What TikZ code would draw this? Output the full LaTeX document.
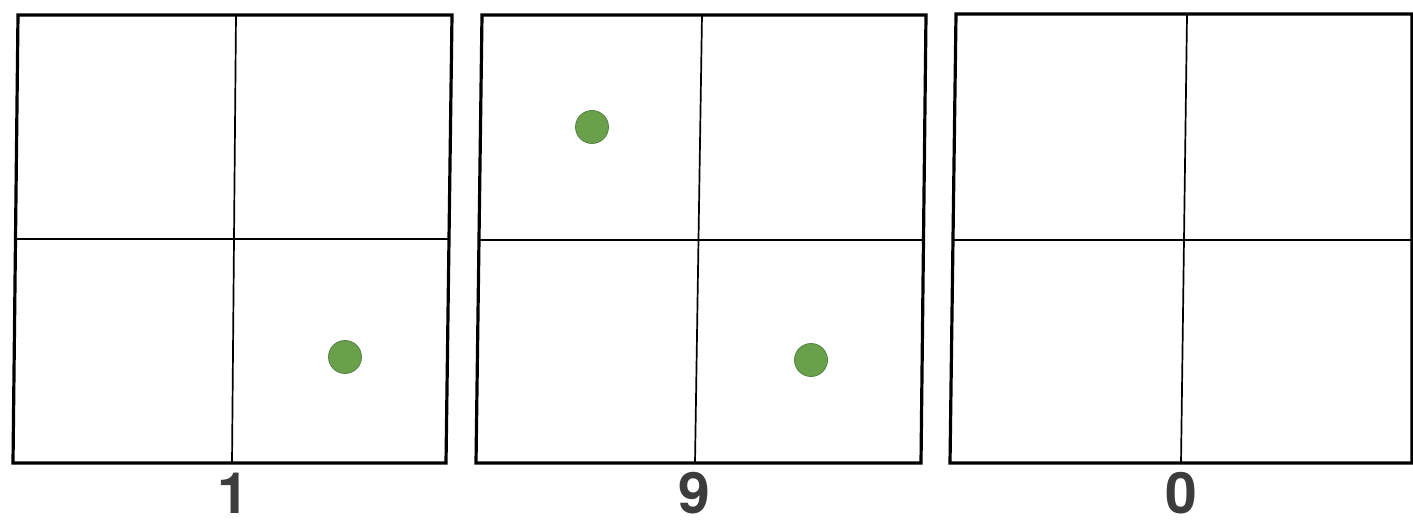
\documentclass[tikz,border=0pt]{standalone}
\usepackage{fontspec}
\setmainfont{TeX Gyre Heros}
\definecolor{dotgreen}{RGB}{106,160,74}
\definecolor{dotedge}{RGB}{80,130,70}
\definecolor{labelgray}{RGB}{60,60,60}
\tikzset{
  frame/.style={draw=black, line width=3.2pt, line join=miter},
  divider/.style={draw=black, line width=1.7pt},
  counter/.style={circle, fill=dotgreen, draw=dotedge, line width=0.8pt, minimum size=33pt, inner sep=0pt},
  numlabel/.style={font=\fontsize{57}{57}\selectfont\bfseries, text=labelgray, inner sep=0pt, anchor=base}
}
\begin{document}
\begin{tikzpicture}[x=1pt,y=-1pt]
\useasboundingbox (0,0) rectangle (1413,521);
\fill[white] (0,0) rectangle (1413,521);
% panel 1
\coordinate (a1) at (18,15); \coordinate (a2) at (452,15);
\coordinate (a3) at (446,463); \coordinate (a4) at (13,463);
\coordinate (av1) at (236,15); \coordinate (av2) at (232,463);
\coordinate (ah1) at (16,239); \coordinate (ah2) at (449,239);
\draw[divider] (av1) -- (av2);
\draw[divider] (ah1) -- (ah2);
\draw[frame] (a1) -- (a2) -- (a3) -- (a4) -- cycle;
\node[counter] (d1) at (345,357) {};
\node[numlabel] (l1) at (233,513) {1};
% panel 2
\coordinate (b1) at (482,15); \coordinate (b2) at (926,15);
\coordinate (b3) at (921,463); \coordinate (b4) at (476,463);
\coordinate (bv1) at (702,15); \coordinate (bv2) at (695,463);
\coordinate (bh1) at (479,240); \coordinate (bh2) at (923,240);
\draw[divider] (bv1) -- (bv2);
\draw[divider] (bh1) -- (bh2);
\draw[frame] (b1) -- (b2) -- (b3) -- (b4) -- cycle;
\node[counter] (d2) at (592,127) {};
\node[counter] (d3) at (811,360) {};
\node[numlabel] (l2) at (694,513) {9};
% panel 3
\coordinate (c1) at (956,14); \coordinate (c2) at (1412,14);
\coordinate (c3) at (1412,463); \coordinate (c4) at (950,463);
\coordinate (cv1) at (1187,15); \coordinate (cv2) at (1181,463);
\coordinate (ch1) at (953,240); \coordinate (ch2) at (1412,240);
\draw[divider] (cv1) -- (cv2);
\draw[divider] (ch1) -- (ch2);
\draw[frame] (c1) -- (c2) -- (c3) -- (c4) -- cycle;
\node[numlabel] (l3) at (1181,513) {0};
\end{tikzpicture}
\end{document}
